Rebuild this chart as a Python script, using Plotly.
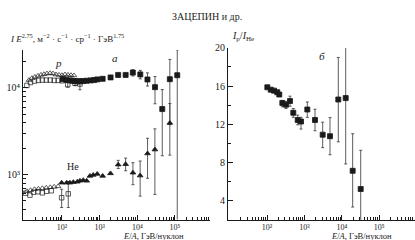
import plotly.graph_objects as go

# ---------------- data: left panel (I*E^2.75) ----------------
# protons, filled squares (E/A GeV, I)
p_f_E = [105, 132, 162, 190, 219, 255, 302, 363, 447, 575, 708, 871, 1200, 1950, 3100, 4900, 7600, 12000, 18600, 29500, 46000, 73000, 115000]
p_f_I = [12600, 12300, 12200, 12080, 11990, 11890, 11890, 11990, 12080, 12200, 12300, 12530, 12720, 13200, 14100, 14100, 15000, 14300, 12500, 10200, 5700, 12600, 14000]
p_f_hi = [None]*14 + [None, None, 16200, 15900, 14900, 13500, 9570, 21300, 27400]
p_f_lo = [None]*14 + [None, None, 13700, 12700, 10500, 6560, 1650, 3770, 100]

# protons, open triangles
p_t_E = [13.3, 16.0, 19.2, 23.1, 27.7, 33.3, 40.0, 48.1, 57.7, 69.3, 83.2, 100, 120, 144, 173, 208]
p_t_I = [12300, 12950, 13400, 13740, 14100, 14360, 14620, 14750, 14620, 14250, 14100, 14000, 14250, 14100, 14000, 13900]

# protons, open squares
p_s_E = [11.7, 14.6, 18.6, 23.7, 30.1, 38.3, 48.7, 62.0, 78.9, 100]
p_s_I = [10670, 11530, 11990, 12200, 12300, 12300, 12300, 12200, 12200, 12080]
p_o_E = [142, 222, 300]
p_o_I = [10890, 11290, 11090]
p_o_hi = [11890, 12300, 12600]
p_o_lo = [10180, 10600, 9500]

# helium, filled triangles
he_f_E = [98, 133, 163, 200, 255, 300, 367, 452, 553, 676, 863, 1200, 1940, 3110, 4900, 7640, 11900, 18700, 29300, 73000]
he_f_I = [807, 807, 807, 819, 828, 849, 863, 849, 967, 992, 1018, 967, 1034, 1305, 1319, 1053, 975, 1753, 1944, 3940]
he_f_hi = [None]*13 + [1462, 1552, 1374, 1436, 2625, 3373, 6600]
he_f_lo = [None]*13 + [1178, 1109, 766, 566, 908, 592, 1679]

# helium, open triangles
he_t_E = [11.7, 14.6, 18.6, 23.7, 30.1, 38.3, 48.7, 62.0, 78.9]
he_t_I = [644, 661, 678, 687, 696, 705, 714, 724, 733]

# helium, open squares
he_s_E = [10.8, 14.1, 17.6, 23.0, 30.1, 39.0, 52.0]
he_s_I = [612, 581, 628, 636, 617, 644, 653]
he_o_E = [98, 147]
he_o_I = [542, 601]
he_o_hi = [678, 834]
he_o_lo = [418, 418]

# ---------------- data: right panel (Ip/IHe) ----------------
r_E = [102, 126, 154, 188, 213, 257, 322, 412, 505, 662, 811, 1196, 1920, 3080, 4830, 8060, 12700, 19500, 32000]
r_V = [15.87, 15.62, 15.52, 15.35, 15.11, 14.23, 14.05, 14.43, 13.2, 12.44, 12.28, 13.54, 12.44, 10.9, 10.74, 14.59, 14.74, 7.11, 5.2]
r_hi = [None]*5 + [14.49, 14.39, 14.94, 13.64, 12.95, 12.72, 14.33, 13.57, 12.21, 12.69, 19.0, 20.3, 11.0, 9.26]
r_lo = [None]*5 + [13.82, 13.64, 13.88, 12.72, 11.93, 11.49, 12.72, 11.31, 9.54, 8.79, 10.15, 7.83, 3.31, 1.95]

major_E = [100, 1000, 10000, 100000]
major_E_txt = ["10²", "10³", "10⁴", "10⁵"]

INK = "#1a1a1a"
FONT = "Liberation Serif"


def errs(y, hi, lo):
    plus = [(h - v) if h is not None else 0 for v, h in zip(y, hi)]
    minus = [(v - l) if l is not None else 0 for v, l in zip(y, lo)]
    return dict(type="data", array=plus, arrayminus=minus, color="#333", thickness=0.8, width=1.5)


fig = go.Figure()

def sc(x, y, sym, size, xa="x", ya="y", err=None, lw=0.8):
    t = go.Scatter(x=x, y=y, mode="markers", xaxis=xa, yaxis=ya,
                   marker=dict(symbol=sym, size=size, color=INK, line=dict(color=INK, width=lw)),
                   showlegend=False, cliponaxis=True)
    if err is not None:
        t.error_y = err
    fig.add_trace(t)

# left panel
sc(p_t_E, p_t_I, "triangle-up-open", 5, lw=0.7)
sc(p_s_E, p_s_I, "square-open", 4.5, lw=0.7)
sc(p_o_E, p_o_I, "square-open", 4.5, err=errs(p_o_I, p_o_hi, p_o_lo), lw=0.7)
sc(p_f_E, p_f_I, "square", 5, err=errs(p_f_I, p_f_hi, p_f_lo))
sc(he_t_E, he_t_I, "triangle-up-open", 5, lw=0.7)
sc(he_s_E, he_s_I, "square-open", 4.5, lw=0.7)
sc(he_o_E, he_o_I, "square-open", 4.5, err=errs(he_o_I, he_o_hi, he_o_lo), lw=0.7)
sc(he_f_E, he_f_I, "triangle-up", 5, err=errs(he_f_I, he_f_hi, he_f_lo))
# right panel
sc(r_E, r_V, "square", 5, xa="x2", ya="y2", err=errs(r_V, r_hi, r_lo))

minor_x = [m * 10 ** k for k in range(1, 6) for m in range(2, 10)]
minor_y = [m * 10 ** k for k in range(2, 5) for m in range(2, 10)]

axis_common = dict(showline=True, linecolor=INK, linewidth=1, ticks="inside", ticklen=5,
                   tickcolor=INK, showgrid=False, zeroline=False, mirror=False,
                   tickfont=dict(family=FONT, size=10, color=INK))
xfont = dict(family=FONT, size=8, color=INK)

W, H = 415, 240
fig.update_layout(
    width=W, height=H, margin=dict(l=0, r=0, t=0, b=0),
    paper_bgcolor="white", plot_bgcolor="white",
    xaxis=dict(type="log", range=[0.965, 5.93], domain=[23 / W, 210 / W], anchor="y",
               tickmode="array", tickvals=major_E, ticktext=major_E_txt,
               minor=dict(tickmode="array", tickvals=minor_x, ticks="inside", ticklen=2.5, tickcolor=INK),
               **{**axis_common, "tickfont": xfont}),
    yaxis=dict(type="log", range=[2.483, 4.438], domain=[(H - 219) / H, (H - 45) / H], anchor="x",
               tickmode="array", tickvals=[1000, 10000], ticktext=["10³", "10⁴"],
               minor=dict(tickmode="array", tickvals=minor_y, ticks="inside", ticklen=2.5, tickcolor=INK),
               **axis_common),
    xaxis2=dict(type="log", range=[0.957, 5.957], domain=[228 / W, 1.0], anchor="y2",
                tickmode="array", tickvals=major_E, ticktext=major_E_txt,
                minor=dict(tickmode="array", tickvals=minor_x, ticks="inside", ticklen=2.5, tickcolor=INK),
                **{**axis_common, "tickfont": xfont}),
    yaxis2=dict(range=[2, 20], domain=[(H - 219) / H, (H - 43) / H], anchor="x2",
                tickmode="array", tickvals=[4, 8, 12, 16, 20],
                minor=dict(tickmode="array", tickvals=[6, 10, 14, 18], ticks="inside", ticklen=3, tickcolor=INK),
                **axis_common),
)

def txt(x, y, s, size=10, anchor="left"):
    fig.add_annotation(x=x / W, y=1 - y / H, xref="paper", yref="paper", text=s, showarrow=False,
                       xanchor=anchor, yanchor="middle", borderpad=0,
                       font=dict(family=FONT, size=size, color=INK))

txt(207, 11, "ЗАЦЕПИН и др.", 10, "center")
txt(9, 33, "<i>I E</i><sup>2.75</sup>, м<sup>−2</sup> · с<sup>−1</sup> · ср<sup>−1</sup> · ГэВ<sup>1.75</sup>", 9)
txt(231, 31, "<i>I</i><sub>p</sub>/<i>I</i><sub>He</sub>", 10)
txt(115, 53, "<i>a</i>", 11, "center")
txt(322, 51, "<i>б</i>", 11, "center")
txt(58, 58, "<i>p</i>", 11, "center")
txt(73, 165, "He", 10, "center")
txt(153, 236, "<i>E</i>/<i>A</i>, ГэВ/нуклон", 8.5, "center")
txt(361, 236, "<i>E</i>/<i>A</i>, ГэВ/нуклон", 8.5, "center")

fig.write_html("out.html", config={"displayModeBar": False},
               post_script="document.body.style.margin='0';document.body.style.padding='0';")
